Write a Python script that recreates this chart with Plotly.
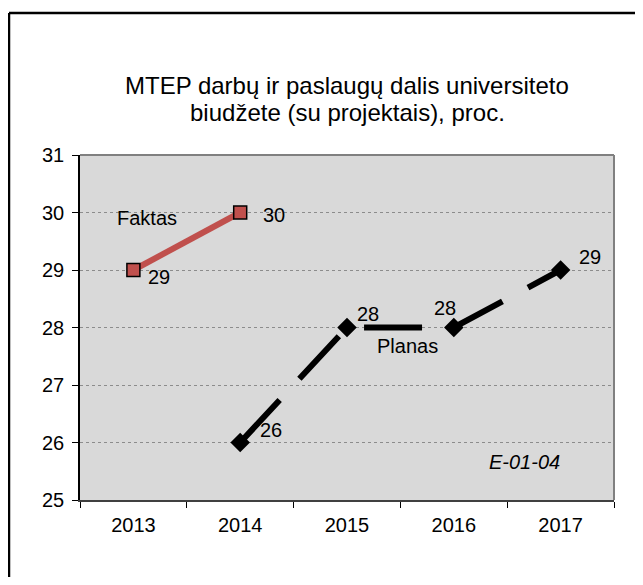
import plotly.graph_objects as go

years = ["2013", "2014", "2015", "2016", "2017"]
fact_years = ["2013", "2014"]
fact_values = [29, 30]
plan_years = ["2014", "2015", "2016", "2017"]
plan_values = [26, 28, 28, 29]
y_ticks = [25, 26, 27, 28, 29, 30, 31]

title_lines = ["MTEP darbų ir paslaugų dalis universiteto",
               "biudžete (su projektais), proc."]

FONT = "Liberation Sans, Arial, sans-serif"

fig = go.Figure()
fig.add_trace(go.Scatter(
    x=fact_years, y=fact_values, mode="lines+markers", name="Faktas",
    line=dict(color="#C0504D", width=6),
    marker=dict(symbol="square", size=13, color="#C0504D",
                line=dict(color="black", width=1.5)),
    showlegend=False, cliponaxis=False))
fig.add_trace(go.Scatter(
    x=plan_years, y=plan_values, mode="lines+markers", name="Planas",
    line=dict(color="black", width=6, dash="58px,29px"),
    marker=dict(symbol="diamond", size=15, color="black"),
    showlegend=False, cliponaxis=False))

lab_font = dict(family=FONT, size=20, color="black")
anns = []
fact_off = [(26, -7), (34, -2)]
for (x, y), (dx, dy) in zip(zip(fact_years, fact_values), fact_off):
    anns.append(dict(x=years.index(x), y=y, text=str(y), xshift=dx, yshift=dy))
plan_off = [(31, 13), (21, 14), (-9, 20), (29, 13)]
for (x, y), (dx, dy) in zip(zip(plan_years, plan_values), plan_off):
    anns.append(dict(x=years.index(x), y=y, text=str(y), xshift=dx, yshift=dy))
for a in anns:
    a.update(xref="x", yref="y", showarrow=False, font=lab_font,
             xanchor="center", yanchor="middle")

anns.append(dict(x=0.1264, y=0.818, xref="paper", yref="paper", text="Faktas",
                 showarrow=False, font=lab_font, xanchor="center", yanchor="middle"))
anns.append(dict(x=0.614, y=0.445, xref="paper", yref="paper", text="Planas",
                 showarrow=False, font=lab_font, xanchor="center", yanchor="middle"))
anns.append(dict(x=0.8324, y=0.111, xref="paper", yref="paper", text="<i>E-01-04</i>",
                 showarrow=False, font=lab_font, xanchor="center", yanchor="middle"))
for ty, line in zip([(500 - 85) / 345, (500 - 112) / 345], title_lines):
    anns.append(dict(x=0.5, y=ty, xref="paper", yref="paper", text=line,
                     showarrow=False, xanchor="center", yanchor="middle",
                     font=dict(family=FONT, size=24, color="black")))

bx0 = (9 - 80) / 534
bx1 = (700 - 80) / 534
by0 = (500 - 640) / 345
by1 = (500 - 13) / 345
shapes = [
    dict(type="line", xref="paper", yref="paper", x0=0, x1=1, y0=1, y1=1,
         line=dict(color="#808080", width=2)),
    dict(type="line", xref="paper", yref="paper", x0=1, x1=1, y0=0, y1=1,
         line=dict(color="#808080", width=2)),
    # outer chart border (left and top edges visible)
    dict(type="line", xref="paper", yref="paper", x0=bx0, x1=bx1, y0=by1, y1=by1,
         line=dict(color="black", width=2.5)),
    dict(type="line", xref="paper", yref="paper", x0=bx0, x1=bx0, y0=by0, y1=by1,
         line=dict(color="black", width=2.5)),
]

fig.update_layout(
    width=627, height=569,
    margin=dict(l=72, r=21, t=147, b=77),
    paper_bgcolor="white", plot_bgcolor="#D9D9D9",
    font=dict(family=FONT, size=20, color="black"),
    annotations=anns, shapes=shapes,
    xaxis=dict(type="category", categoryorder="array", categoryarray=years,
               range=[-0.5, 4.5], showgrid=False, showline=True,
               linecolor="#404040", linewidth=1.5, ticks="outside",
               tickson="boundaries", ticklen=6, tickcolor="black",
               ticklabelstandoff=6,
               tickfont=dict(family=FONT, size=20)),
    yaxis=dict(range=[25, 31], tickvals=y_ticks, showline=True,
               linecolor="black", linewidth=1.5, ticks="outside", ticklen=6,
               tickcolor="black", showgrid=True, gridcolor="#8C8C8C",
               griddash="dot", gridwidth=1, zeroline=False,
               ticklabelstandoff=4,
               tickfont=dict(family=FONT, size=20)),
)

fig.write_html("out.html")
